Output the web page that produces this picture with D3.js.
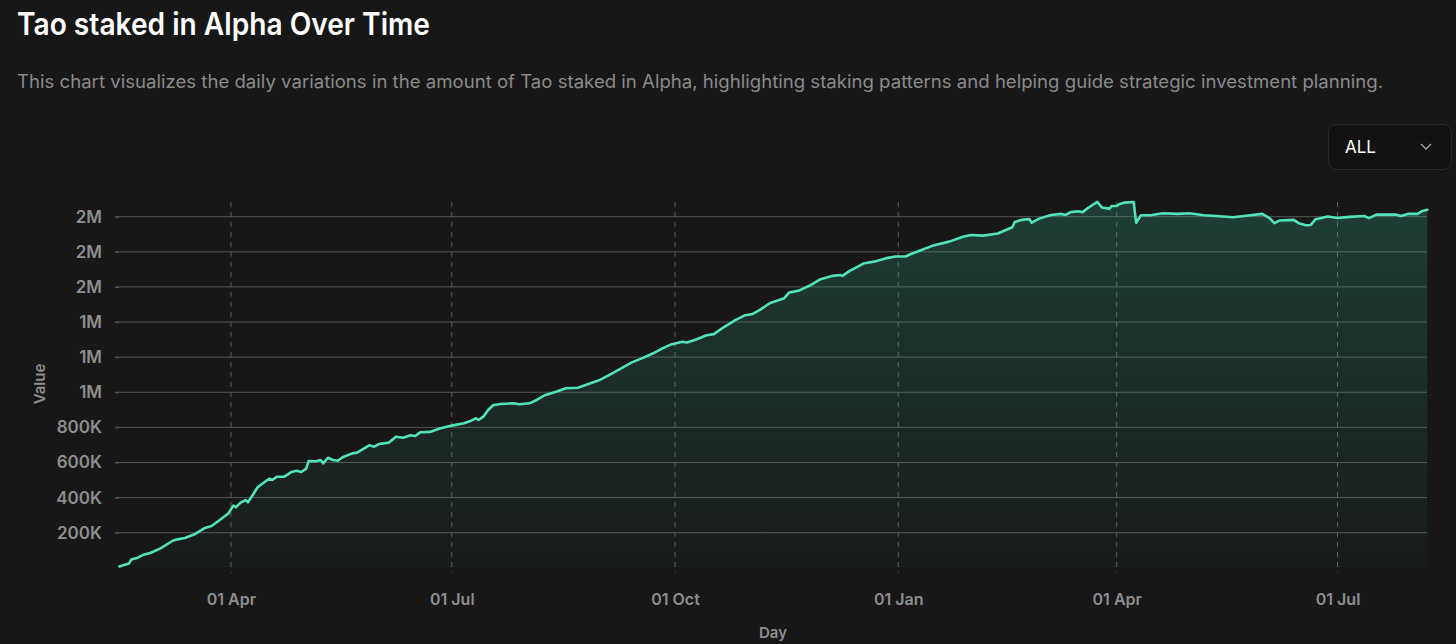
<!DOCTYPE html>
<html>
<head>
<meta charset="utf-8">
<script src="https://cdn.jsdelivr.net/npm/d3@7/dist/d3.min.js"></script>
<style>
  html, body { margin: 0; padding: 0; background: #171717; overflow: hidden; }
  svg { display: block; font-family: Inter, "Noto Sans", sans-serif; }
</style>
</head>
<body>
<svg id="chart" width="1456" height="644"></svg>
<script>
// ---- Data ----
const startDate = "2025-02-14";
// days since startDate
const dayOffsets = [0,4,5,7,10,13,17,22,24,27,31,35,38,41,45,47,48,50,52,53,55,57,61,62,63,65,68,71,73,75,77,78,81,83,84,86,88,90,92,96,98,103,105,107,111,114,117,120,122,124,128,132,
137,142,145,147,148,150,152,154,157,162,165,169,172,175,180,184,189,193,198,202,207,211,216,220,224,227,232,234,238,242,245,249,254,258,261,264,
268,274,276,280,285,289,294,297,298,301,307,311,316,320,324,326,330,335,342,348,351,356,362,368,369,372,375,376,379,384,388,390,392,395,397,399,403,405,408,409,411,412,414,418,419,421,425,430,436,441,447,452,459,466,471,474,476,478,484,486,489,491,493,498,502,507,513,515,518,526,528,531,535,537,539];
// Tao staked, in thousands
const valuesK = [8,25,48,54,75,86,111,154,162,170,191,225,238,268,311,354,345,371,386,373,415,459,500,508,500,519,519,546,553,546,565,608,607,614,595,627,614,610,630,652,656,698,690,705,713,747,741,755,751,772,774,793,
810,823,838,852,842,861,899,926,933,937,932,937,956,981,1003,1023,1026,1046,1070,1099,1137,1169,1197,1222,1251,1270,1288,1283,1302,1325,1331,1370,1412,1439,1446,1469,
1507,1536,1568,1579,1611,1644,1663,1668,1663,1691,1735,1744,1764,1773,1773,1786,1807,1834,1858,1887,1896,1892,1904,1940,1970,1982,1987,1966,1989,2010,2016,2010,2026,2031,2026,2048,2084,2052,2046,2061,2061,2071,2080,2084,1966,2008,2008,2020,2016,2020,2008,2004,1997,2008,2016,1992,1963,1978,1982,1963,1951,1953,1986,2001,1993,1999,2004,1992,2012,2012,2004,2016,2016,2033,2039];
const yTickValues = [200000,400000,600000,800000,1000000,1200000,1400000,1600000,1800000,2000000];
const yTickLabels = ["200K","400K","600K","800K","1M","1M","1M","2M","2M","2M"];
const xTickDates = ["2025-04-01","2025-07-01","2025-10-01","2026-01-01","2026-04-01","2026-07-01"];
const xTickLabels = ["01 Apr","01 Jul","01 Oct","01 Jan","01 Apr","01 Jul"];
const endDate = "2026-08-07";

// ---- Build ----
const parse = d3.utcParse("%Y-%m-%d");
const t0 = parse(startDate);
const data = dayOffsets.map((d, i) => ({ date: d3.utcDay.offset(t0, d), value: valuesK[i] * 1000 }));

const svg = d3.select("#chart");
const W = 1456, H = 644;
svg.append("rect").attr("width", W).attr("height", H).attr("fill", "#171717");

// Title & subtitle
svg.append("text").attr("x", 17).attr("y", 35)
  .attr("fill", "#ffffff").attr("font-size", 31).attr("font-weight", 600)
  .attr("textLength", 413).attr("lengthAdjust", "spacingAndGlyphs")
  .text("Tao staked in Alpha Over Time");
svg.append("text").attr("x", 17).attr("y", 88)
  .attr("fill", "#8a8a8a").attr("font-size", 18).attr("font-weight", 400)
  .attr("textLength", 1366).attr("lengthAdjust", "spacingAndGlyphs")
  .text("This chart visualizes the daily variations in the amount of Tao staked in Alpha, highlighting staking patterns and helping guide strategic investment planning.");

// Dropdown
const dd = svg.append("g");
dd.append("rect").attr("x", 1328.5).attr("y", 124.5).attr("width", 123).attr("height", 45)
  .attr("rx", 8).attr("fill", "#121212").attr("stroke", "#2a2a2a");
dd.append("text").attr("x", 1345).attr("y", 152.5).attr("fill", "#ffffff")
  .attr("font-size", 17).attr("font-weight", 400).text("ALL");
dd.append("path").attr("d", "M1421,144 L1426,149 L1431,144")
  .attr("fill", "none").attr("stroke", "#aaaaaa").attr("stroke-width", 1.3);

// Scales
const x = d3.scaleUtc().domain([t0, parse(endDate)]).range([119.3, 1427.3]);
const y = d3.scaleLinear().domain([0, 2000000]).range([567.8, 216.7]);
const plotLeft = 115, plotRight = 1427;

// Gridlines
const grid = svg.append("g");
grid.selectAll("line").data(yTickValues).join("line")
  .attr("x1", plotLeft).attr("x2", plotRight)
  .attr("y1", d => y(d)).attr("y2", d => y(d))
  .attr("stroke", "#555555").attr("stroke-width", 1);

// Vertical dashed lines
const xt = xTickDates.map(parse);
svg.append("g").selectAll("line").data(xt).join("line")
  .attr("x1", d => x(d)).attr("x2", d => x(d))
  .attr("y1", 202).attr("y2", 573)
  .attr("stroke", "#5c5c5c").attr("stroke-width", 1).attr("stroke-dasharray", "5,5");

// Area gradient
const defs = svg.append("defs");
const grad = defs.append("linearGradient").attr("id", "areaGrad")
  .attr("gradientUnits", "userSpaceOnUse")
  .attr("x1", 0).attr("x2", 0).attr("y1", y(2050000)).attr("y2", y(0));
grad.append("stop").attr("offset", "0%").attr("stop-color", "#3fd8b0").attr("stop-opacity", 0.2);
grad.append("stop").attr("offset", "100%").attr("stop-color", "#3fd8b0").attr("stop-opacity", 0.02);

const area = d3.area().x(d => x(d.date)).y0(y(0)).y1(d => y(d.value));
svg.append("path").datum(data).attr("d", area).attr("fill", "url(#areaGrad)");

const line = d3.line().x(d => x(d.date)).y(d => y(d.value));
svg.append("path").datum(data).attr("d", line)
  .attr("fill", "none").attr("stroke", "#52e3bb").attr("stroke-width", 2.6)
  .attr("stroke-linejoin", "round").attr("stroke-linecap", "round");

// Y axis
const yAxis = d3.axisLeft(y).tickValues(yTickValues)
  .tickFormat((d, i) => yTickLabels[i]).tickSize(4).tickPadding(9);
const ya = svg.append("g").attr("transform", `translate(${plotLeft + 4},0)`).call(yAxis);
ya.select(".domain").remove();
ya.selectAll(".tick line").attr("stroke", "#555555");
ya.selectAll("text").attr("fill", "#8e8e8e").attr("font-size", 17).attr("font-weight", 600)
  .attr("font-family", "Inter, sans-serif").attr("x", -17);

// X axis
const xAxis = d3.axisBottom(x).tickValues(xt)
  .tickFormat((d, i) => xTickLabels[i]).tickSize(0).tickPadding(0);
const xa = svg.append("g").attr("transform", `translate(0,594)`).call(xAxis);
xa.select(".domain").remove();
xa.selectAll("text").attr("fill", "#8e8e8e").attr("font-size", 16).attr("font-weight", 600)
  .attr("font-family", "Inter, sans-serif").attr("dy", "0.71em").attr("y", 0);

// Axis titles
svg.append("text").attr("transform", "translate(45,384) rotate(-90)")
  .attr("text-anchor", "middle").attr("fill", "#8e8e8e")
  .attr("font-size", 15).attr("font-weight", 600).text("Value");
svg.append("text").attr("x", 773).attr("y", 638)
  .attr("text-anchor", "middle").attr("fill", "#8e8e8e")
  .attr("font-size", 15).attr("font-weight", 600).text("Day");
</script>
</body>
</html>
